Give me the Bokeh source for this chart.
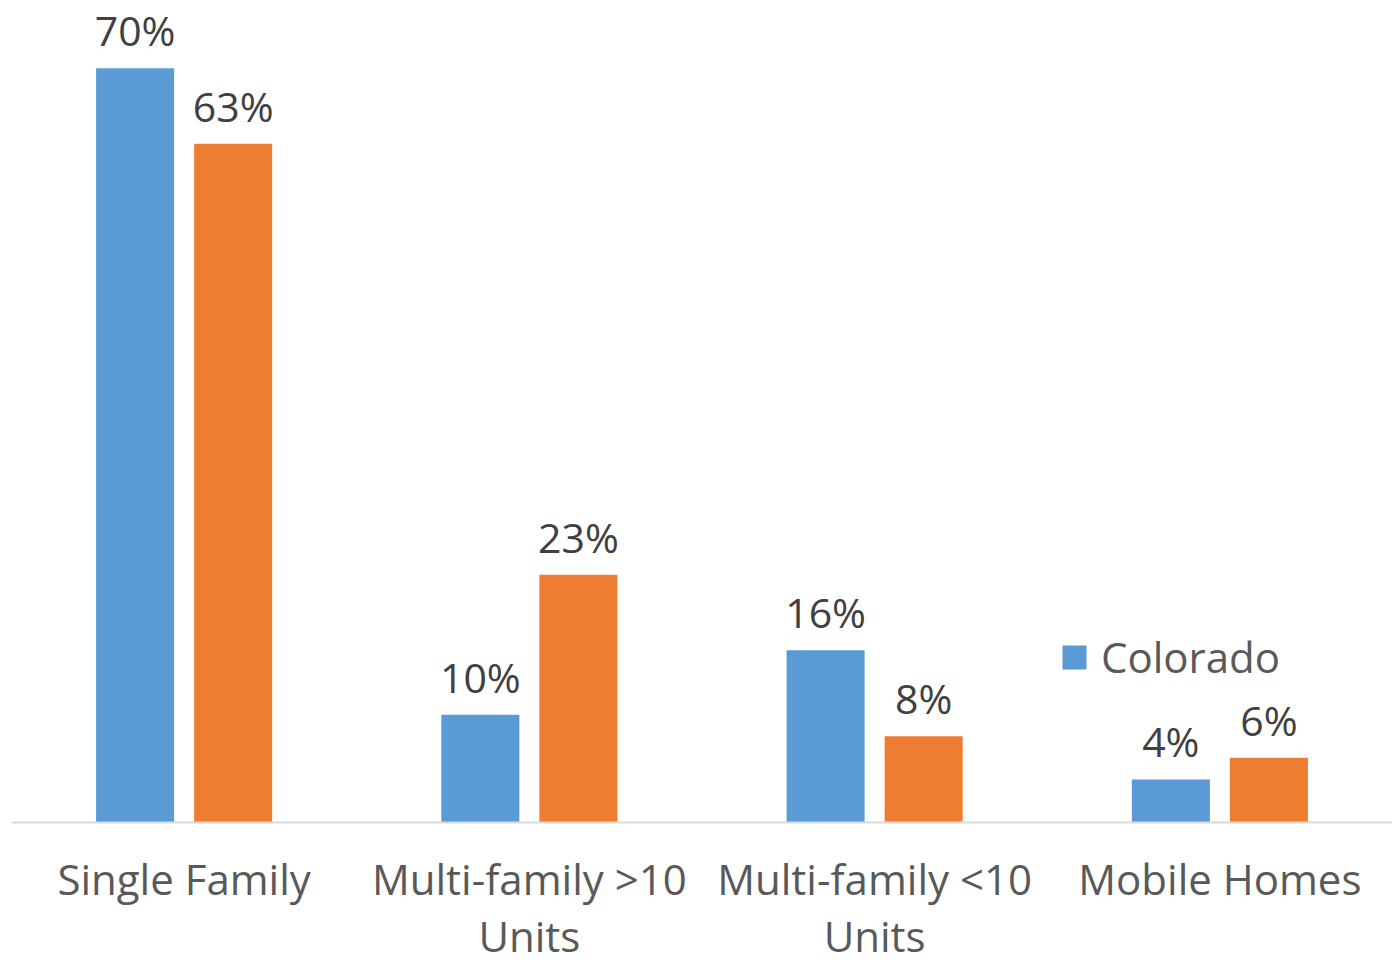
from bokeh.plotting import figure
from bokeh.models import ColumnDataSource, Range1d, FixedTicker, Legend, LegendItem
from bokeh.core.properties import value
from bokeh.embed import file_html
from bokeh.resources import INLINE

categories = ["Single Family", "Multi-family >10\nUnits", "Multi-family <10\nUnits", "Mobile Homes"]
colorado = [70, 10, 16, 4]
other = [63, 23, 8, 6]
series_names = ["Colorado", "Other"]

FONT = "Open Sans"
idx = list(range(len(categories)))
off = 0.142
bw = 0.226

src_a = ColumnDataSource(dict(x=[i - off for i in idx], top=colorado,
                              lbl=[f"{v}%" for v in colorado]))
src_b = ColumnDataSource(dict(x=[i + off for i in idx], top=other,
                              lbl=[f"{v}%" for v in other]))

p = figure(width=1392, height=966, output_backend="svg", toolbar_location=None,
           x_range=Range1d(-0.5, 3.5), y_range=Range1d(0, 76.3),
           min_border_left=11, min_border_right=0, min_border_top=0, min_border_bottom=0)
p.outline_line_color = None
p.grid.visible = False
p.yaxis.visible = False
p.background_fill_color = "white"
p.border_fill_color = "white"

ra = p.vbar(x="x", top="top", width=bw, source=src_a, color="#5B9BD5", line_color=None)
rb = p.vbar(x="x", top="top", width=bw, source=src_b, color="#ED7D31", line_color=None)

for s in (src_a, src_b):
    p.text(x="x", y="top", text="lbl", source=s, text_align="center", text_baseline="bottom",
           y_offset=-10, text_font=value(FONT), text_font_size="41px", text_color="#404040")

ax = p.xaxis[0]
ax.ticker = FixedTicker(ticks=idx)
ax.major_label_overrides = {i: c for i, c in zip(idx, categories)}
ax.major_tick_line_color = None
ax.minor_tick_line_color = None
ax.axis_line_color = "#D9D9D9"
ax.axis_line_width = 2
ax.major_label_text_font = FONT
ax.major_label_text_font_size = "42px"
ax.major_label_text_color = "#595959"
ax.major_label_text_line_height = 1.0
ax.major_label_standoff = 21

legend = Legend(items=[LegendItem(label=series_names[0], renderers=[ra])],
                location=(1048, 137), orientation="vertical",
                label_text_font=FONT, label_text_font_size="42px", label_text_color="#595959",
                glyph_width=30, glyph_height=30, label_standoff=12,
                background_fill_alpha=0, border_line_color=None, padding=4, margin=0)
p.add_layout(legend, "center")

open("out.html", "w").write(file_html(p, INLINE))
